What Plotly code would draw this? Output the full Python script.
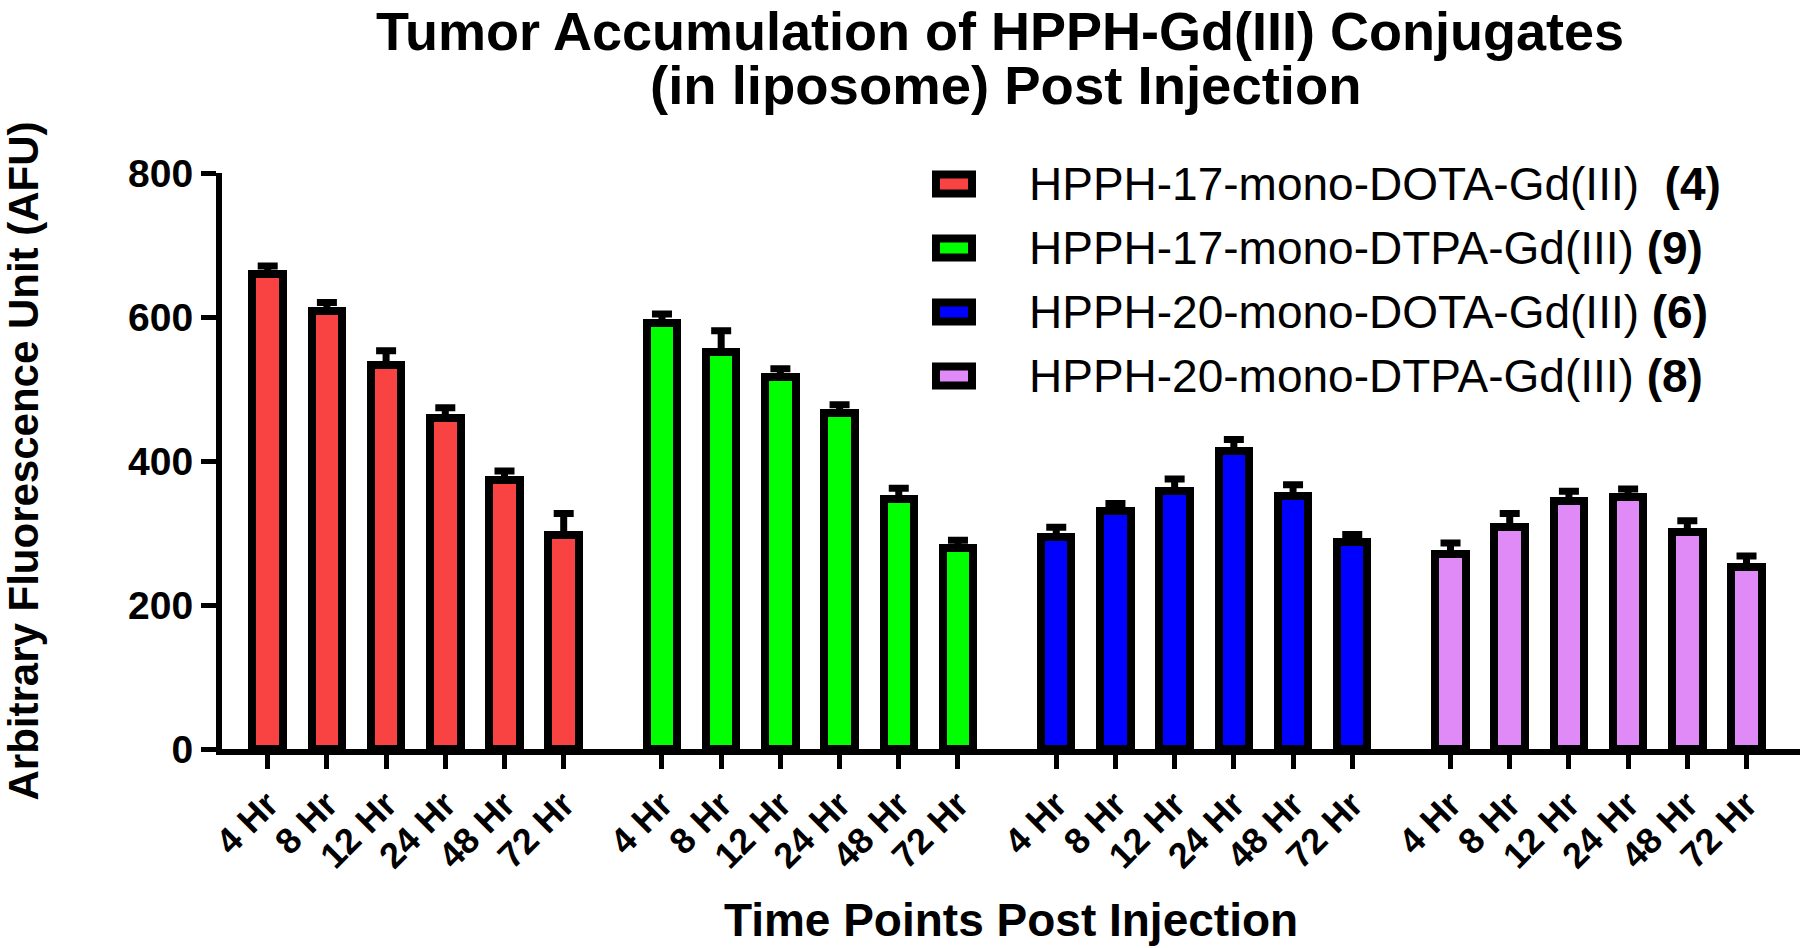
import plotly.graph_objects as go

# ---------------- data ----------------
time_points = ["4 Hr", "8 Hr", "12 Hr", "24 Hr", "48 Hr", "72 Hr"]
series_names = [
    "HPPH-17-mono-DOTA-Gd(III)",
    "HPPH-17-mono-DTPA-Gd(III)",
    "HPPH-20-mono-DOTA-Gd(III)",
    "HPPH-20-mono-DTPA-Gd(III)",
]
compound_ids = ["4", "9", "6", "8"]

dota17 = [660, 608, 534, 460, 373, 297]
dota17_err = [11, 12, 19, 14, 13, 30]
dtpa17 = [591, 552, 516, 467, 347, 279]
dtpa17_err = [13, 29, 12, 11, 15, 11]
dota20 = [294, 330, 358, 414, 351, 288]
dota20_err = [14, 11, 17, 16, 16, 10]
dtpa20 = [271, 308, 345, 350, 301, 253]
dtpa20_err = [15, 19, 13, 11, 16, 15]

series_values = [dota17, dtpa17, dota20, dtpa20]
series_errors = [dota17_err, dtpa17_err, dota20_err, dtpa20_err]
colors = ["#F94343", "#00FF00", "#0000FF", "#E08AF8"]

# ---------------- layout constants ----------------
W, H = 1800, 948
L, R, T, B = 222, 0, 173, 199
PW, PH = W - L - R, H - T - B
GROUP_STEP = 6.66
UNIT_PX = 59.2
FONT = "Liberation Sans, Arial, sans-serif"


def px_x(px):
    return (px - L) / PW


def px_y(py):
    return (H - B - py) / PH


fig = go.Figure()
tickvals, ticktext = [], []
for g, (name, vals, errs, col) in enumerate(zip(series_names, series_values, series_errors, colors)):
    xs = [g * GROUP_STEP + i for i in range(len(time_points))]
    tickvals += xs
    ticktext += time_points
    fig.add_trace(go.Bar(
        x=xs, y=vals, name=name, width=0.515,
        marker=dict(color=col, line=dict(color="black", width=8)),
        error_y=dict(type="data", array=errs, arrayminus=[0] * len(errs), symmetric=False,
                     color="black", thickness=7, width=10),
        showlegend=False,
    ))

x_left = -0.772
x_right = x_left + PW / UNIT_PX
fig.update_xaxes(
    range=[x_left, x_right], tickvals=tickvals, ticktext=ticktext, tickangle=-45,
    showline=True, linecolor="black", linewidth=6, ticks="outside", ticklen=14, tickwidth=5,
    tickcolor="black", showgrid=False, zeroline=False,
    tickfont=dict(family=FONT, size=36, color="black", weight="bold"),
    title=dict(text="<b>Time Points Post Injection</b>", font=dict(family=FONT, size=46, color="black"), standoff=31),
)
fig.update_yaxes(
    range=[0, 800], tickvals=[0, 200, 400, 600, 800],
    showline=True, linecolor="black", linewidth=6, ticks="outside", ticklen=15, tickwidth=5,
    tickcolor="black", showgrid=False, zeroline=False,
    tickfont=dict(family=FONT, size=39, color="black", weight="bold"),
    title=dict(text="<b>Arbitrary Fluorescence Unit (AFU)</b>", font=dict(family=FONT, size=42, color="black"), standoff=83),
)

# manual legend
row_centers = [184, 248, 312, 376]
shapes = []
annotations = []
for k, (name, cid, col) in enumerate(zip(series_names, compound_ids, colors)):
    yc = row_centers[k]
    shapes.append(dict(type="rect", xref="paper", yref="paper",
                       x0=px_x(936), x1=px_x(972), y0=px_y(yc + 9.5), y1=px_y(yc - 9.5),
                       fillcolor=col, line=dict(color="black", width=8)))
    sep = "  " if k == 0 else " "
    annotations.append(dict(xref="paper", yref="paper", x=px_x(1027), y=px_y(yc),
                            xanchor="left", yanchor="middle", showarrow=False,
                            text=f"{name}{sep}<b>({cid})</b>",
                            font=dict(family=FONT, size=46, color="black")))

# title second line
annotations.append(dict(xref="paper", yref="paper", x=px_x(1006), y=px_y(85),
                        xanchor="center", yanchor="middle", showarrow=False,
                        text="<b>(in liposome) Post Injection</b>",
                        font=dict(family=FONT, size=54.5, color="black")))

fig.update_layout(
    width=W, height=H, margin=dict(l=L, r=R, t=T, b=B, pad=0),
    paper_bgcolor="white", plot_bgcolor="white",
    bargap=0,
    title=dict(text="<b>Tumor Accumulation of HPPH-Gd(III) Conjugates</b>", xref="container", yref="container",
               x=1000 / W, xanchor="center", y=1 - 31 / H, yanchor="middle",
               font=dict(family=FONT, size=54, color="black")),
    shapes=shapes, annotations=annotations,
    font=dict(family=FONT, color="black"),
)

fig.write_html("out.html", config={"displayModeBar": False},
               post_script="document.body.style.margin='0';document.body.style.overflow='hidden';")
